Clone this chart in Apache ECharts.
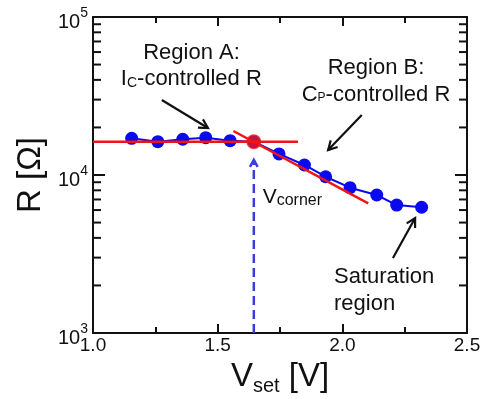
<!DOCTYPE html>
<html>
<head>
<meta charset="utf-8">
<script src="https://cdn.jsdelivr.net/npm/echarts@6/dist/echarts.min.js"></script>
<style>
  html, body { margin: 0; padding: 0; background: #fff; }
  #chart { width: 487px; height: 399px; }
</style>
</head>
<body>
<div id="chart"></div>
<script>
// Measured set voltage (V) and resistance (ohm)
const vSet = [1.155, 1.26, 1.36, 1.452, 1.55, 1.645, 1.746, 1.848, 1.933, 2.031, 2.138, 2.218, 2.318];
const resistance = [17060, 16250, 16830, 17220, 16480, 16250, 13590, 11570, 9750, 8310, 7470, 6450, 6250];

// Fitted lines: flat region A and falling region B
const fitA = [[1.0, 16250], [1.822, 16250]];
const fitB = [[1.563, 18990], [2.104, 6620]];

// Corner point where the two fits meet
const corner = [[1.645, 16250]];

// Dashed pointer from the V axis up to the corner: [x1, y1, x2, y2]
const cornerPointer = [[1.645, 1000, 1.645, 12460]];

// Callout arrows: [x1, y1, x2, y2] (tail -> head)
const callouts = [
  [1.276, 29850, 1.461, 19840],
  [2.078, 23990, 1.943, 14390],
  [2.203, 2985, 2.292, 5346]
];

// Axis ranges and ticks
const xMin = 1.0, xMax = 2.5, xStep = 0.5;
const yMin = 1000, yMax = 100000;
const yMinorTicks = [2000, 3000, 4000, 5000, 6000, 7000, 8000, 9000,
                     20000, 30000, 40000, 50000, 60000, 70000, 80000, 90000];

const FONT = '"Liberation Sans", Arial, Helvetica, sans-serif';
const BLUE = '#0a0af0';
const RED = '#f01515';
const INK = '#111';

// rich styles for text with a subscript; main glyph baseline sits 0.81*fm
// below the top of the block, the subscript baseline `drop` px lower
function subRich(fm, fs, drop) {
  const pad = Math.max(0, 0.81 * (fm - fs) + drop);
  return {
    m: { fontSize: fm, lineHeight: fm, verticalAlign: 'top', fontFamily: FONT, fill: INK },
    s: { fontSize: fs, verticalAlign: 'top', padding: [pad, 0, 0, 0], fontFamily: FONT, fill: INK }
  };
}
function label(x, baseline, text, fm, fs, drop, align) {
  return {
    type: 'text', x: x, y: baseline - 0.81 * fm, z: 100,
    style: {
      text: text, rich: subRich(fm, fs, drop), font: fm + 'px ' + FONT,
      align: align || 'center', verticalAlign: 'top', fill: INK
    }
  };
}

function arrowRender(color, width, headLen, dash) {
  return function (params, api) {
    const a = api.coord([api.value(0), api.value(1)]);
    const b = api.coord([api.value(2), api.value(3)]);
    const ang = Math.atan2(b[1] - a[1], b[0] - a[0]);
    const s = 0.5;
    const h1 = [b[0] - headLen * Math.cos(ang - s), b[1] - headLen * Math.sin(ang - s)];
    const h2 = [b[0] - headLen * Math.cos(ang + s), b[1] - headLen * Math.sin(ang + s)];
    return {
      type: 'group',
      children: [
        { type: 'line', shape: { x1: a[0], y1: a[1], x2: b[0], y2: b[1] },
          style: { stroke: color, lineWidth: width, lineDash: dash || null } },
        { type: 'polyline', shape: { points: [h1, b, h2] },
          style: { stroke: color, lineWidth: width, fill: null } }
      ]
    };
  };
}

const chart = echarts.init(document.getElementById('chart'), null, { renderer: 'canvas' });

const axisLine = { show: true, lineStyle: { color: INK, width: 2 } };

chart.setOption({
  animation: false,
  backgroundColor: '#fff',
  grid: { left: 93, right: 20, top: 17, bottom: 66, containLabel: false },
  xAxis: [
    {
      type: 'value', min: xMin, max: xMax, interval: xStep, position: 'bottom',
      axisLine: axisLine,
      axisTick: { inside: true, length: 9, lineStyle: { color: INK, width: 2 } },
      minorTick: { show: true, splitNumber: 2, length: 6, lineStyle: { color: INK, width: 2 } },
      splitLine: { show: false },
      axisLabel: { formatter: v => v.toFixed(1), fontSize: 19, fontFamily: FONT, color: INK, margin: 3 }
    },
    {
      type: 'value', min: xMin, max: xMax, interval: xStep, position: 'top',
      axisLine: axisLine,
      axisTick: { inside: true, length: 9, lineStyle: { color: INK, width: 2 } },
      minorTick: { show: true, splitNumber: 2, length: 6, lineStyle: { color: INK, width: 2 } },
      splitLine: { show: false },
      axisLabel: { show: false }
    }
  ],
  yAxis: [
    {
      type: 'log', logBase: 10, min: yMin, max: yMax, position: 'left',
      name: 'R [Ω]', nameLocation: 'middle', nameGap: 38, nameRotate: 90,
      nameTextStyle: { fontSize: 33, fontFamily: FONT, color: INK },
      axisLine: axisLine,
      axisTick: { inside: true, length: 12, lineStyle: { color: INK, width: 2 } },
      splitLine: { show: false },
      axisLabel: {
        margin: 5,
        formatter: v => '{b|10}{s|' + Math.round(Math.log10(v)) + '}',
        rich: {
          b: { fontSize: 20, lineHeight: 30, verticalAlign: 'bottom', fontFamily: FONT, color: INK },
          s: { fontSize: 14, verticalAlign: 'top', padding: [4, 0, 0, 0], fontFamily: FONT, color: INK }
        }
      }
    },
    {
      type: 'log', logBase: 10, min: yMin, max: yMax, position: 'right',
      axisLine: axisLine,
      axisTick: { inside: true, length: 12, lineStyle: { color: INK, width: 2 } },
      splitLine: { show: false },
      axisLabel: { show: false }
    }
  ],
  series: [
    {
      // minor ticks of the log axes (2..9 within each decade), both sides
      type: 'custom', xAxisIndex: 0, yAxisIndex: 0, silent: true, z: 5,
      data: yMinorTicks.map(v => [v]),
      encode: { y: 0 },
      renderItem: function (params, api) {
        const y = api.coord([xMin, api.value(0)])[1];
        const cs = params.coordSys;
        const st = { stroke: INK, lineWidth: 2 };
        return {
          type: 'group',
          children: [
            { type: 'line', shape: { x1: cs.x, y1: y, x2: cs.x + 8, y2: y }, style: st },
            { type: 'line', shape: { x1: cs.x + cs.width, y1: y, x2: cs.x + cs.width - 8, y2: y }, style: st }
          ]
        };
      }
    },
    {
      type: 'line', data: vSet.map((v, i) => [v, resistance[i]]),
      symbol: 'circle', symbolSize: 13,
      lineStyle: { color: BLUE, width: 2 },
      itemStyle: { color: BLUE },
      z: 10
    },
    {
      type: 'custom', silent: true, z: 12,
      data: cornerPointer, encode: { x: [0, 2], y: [1, 3] },
      renderItem: arrowRender('#3b3be6', 2.5, 8, [9, 5])
    },
    {
      type: 'line', data: fitA, symbol: 'none',
      lineStyle: { color: RED, width: 2.5 }, z: 20
    },
    {
      type: 'line', data: fitB, symbol: 'none',
      lineStyle: { color: RED, width: 2.5 }, z: 20
    },
    {
      type: 'scatter', data: corner, symbol: 'circle', symbolSize: 15,
      itemStyle: { color: RED }, z: 25
    },
    {
      type: 'custom', silent: true, z: 30,
      data: callouts, encode: { x: [0, 2], y: [1, 3] },
      renderItem: arrowRender(INK, 2.2, 10)
    }
  ],
  graphic: [
    label(191.5, 59.3, '{m|Region A:}', 22, 14, 0),
    label(191.3, 85.5, '{m|I}{s|C}{m|-controlled R}', 22, 14, 2.3),
    label(376, 75, '{m|Region B:}', 22, 14, 0),
    label(376, 101.7, '{m|C}{s|P}{m|-controlled R}', 22, 12, 0),
    label(262.7, 203.3, '{m|V}{s|corner}', 21, 16, 2, 'left'),
    label(334, 284, '{m|Saturation}', 22, 14, 0, 'left'),
    label(334, 310.5, '{m|region}', 22, 14, 0, 'left'),
    label(280, 386.7, '{m|V}{s|set}{m| [V]}', 33, 20, 6.3)
  ]
});
</script>
</body>
</html>
